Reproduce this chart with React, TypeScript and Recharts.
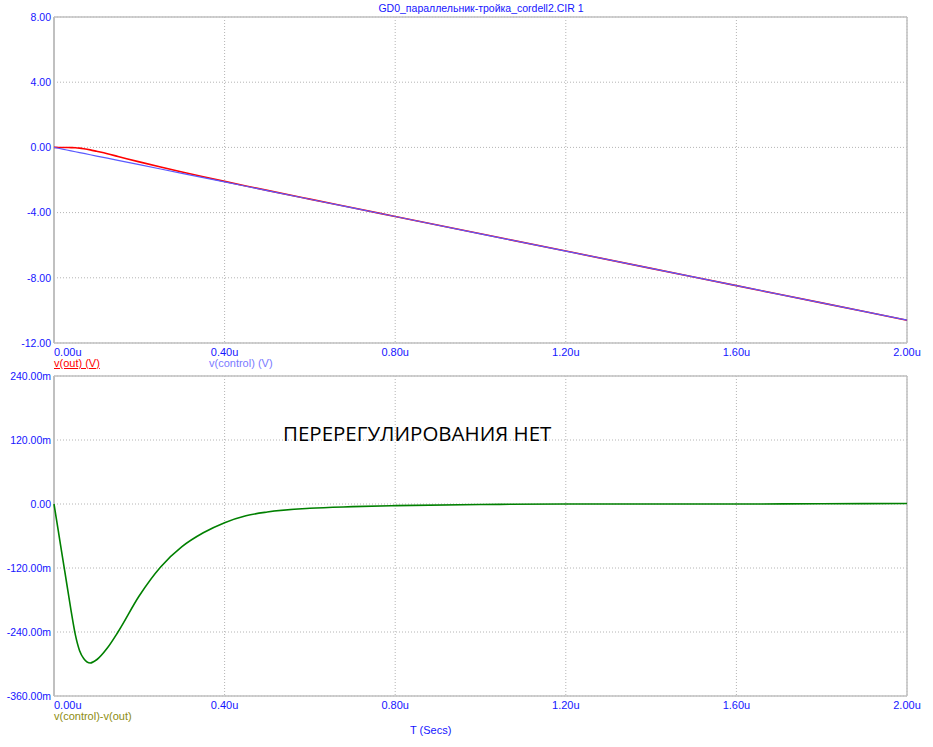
import React from "react";
import {
  LineChart,
  Line,
  XAxis,
  YAxis,
  CartesianGrid,
  ReferenceLine,
} from "recharts";

// time in microseconds
const times = [
  0, 0.01, 0.02, 0.03, 0.04, 0.05, 0.06, 0.07, 0.085, 0.1, 0.125, 0.15, 0.2,
  0.25, 0.3, 0.35, 0.4, 0.45, 0.5, 0.6, 0.7, 0.8, 1.0, 1.2, 1.4, 1.6, 1.8, 2.0,
];

const vControl = [
  0, -0.053, -0.106, -0.159, -0.212, -0.265, -0.318, -0.371, -0.45, -0.53,
  -0.663, -0.795, -1.06, -1.325, -1.59, -1.855, -2.12, -2.385, -2.65, -3.18,
  -3.71, -4.24, -5.3, -6.36, -7.42, -8.48, -9.54, -10.6,
];

const vOut = [
  0, -0.003, -0.006, -0.009, -0.012, -0.02, -0.043, -0.081, -0.152, -0.24,
  -0.39, -0.555, -0.888, -1.205, -1.508, -1.8, -2.085, -2.363, -2.635, -3.172,
  -3.705, -4.237, -5.299, -6.36, -7.42, -8.48, -9.54, -10.6,
];

const vDiff = [
  0, -0.05, -0.1, -0.15, -0.2, -0.245, -0.275, -0.29, -0.298, -0.292, -0.27,
  -0.24, -0.172, -0.118, -0.08, -0.054, -0.035, -0.022, -0.015, -0.008,
  -0.005, -0.003, -0.001, 0, 0, 0, 0.0005, 0.001,
];

const xTicks = [0, 0.4, 0.8, 1.2, 1.6, 2.0];
const topTicks = [-12, -8, -4, 0, 4, 8];
const bottomTicks = [-0.36, -0.24, -0.12, 0, 0.12, 0.24];

const topData = times.map((t, i) => ({ t, out: vOut[i], control: vControl[i] }));
const bottomData = times.map((t, i) => ({ t, diff: vDiff[i] }));

const FONT = "'Liberation Sans', Arial, sans-serif";
const BLUE = "#1515ff";
const BORDER = "#c0c0c0";

const XTick = (props: any) => {
  const { x, y, payload, index } = props;
  return (
    <text
      x={x}
      y={y + 3}
      dy="0.71em"
      textAnchor={index === 0 ? "start" : "middle"}
      fontFamily={FONT}
      fontSize={11}
      fill={BLUE}
    >
      {payload.value.toFixed(2) + "u"}
    </text>
  );
};

const fmtTop = (v: number) => v.toFixed(2);
const fmtBottom = (v: number) => (v === 0 ? "0.00" : (v * 1000).toFixed(2) + "m");

export default function App() {
  const yTickStyle = { fontFamily: FONT, fontSize: 10.5, fill: BLUE };
  return (
    <div
      style={{
        position: "absolute",
        left: 0,
        top: 0,
        width: 933,
        height: 747,
        background: "#fff",
        fontFamily: FONT,
      }}
    >
      <div
        style={{
          position: "absolute",
          top: 2,
          left: 0,
          width: 962,
          textAlign: "center",
          fontSize: 10.5,
          color: BLUE,
        }}
      >
        GD0_параллельник-тройка_cordell2.CIR 1
      </div>

      <div style={{ position: "absolute", top: 0, left: 0 }}>
        <LineChart
          width={933}
          height={375}
          data={topData}
          margin={{ top: 17, right: 26, left: 0, bottom: 0 }}
        >
          <CartesianGrid stroke="#b4b4b4" strokeDasharray="1 2" />
          <XAxis
            dataKey="t"
            type="number"
            domain={[0, 2]}
            ticks={xTicks}
            height={32}
            tickLine={false}
            tickSize={0}
            axisLine={false}
            tick={<XTick />}
            interval={0}
          />
          <YAxis
            type="number"
            domain={[-12, 8]}
            ticks={topTicks}
            width={54}
            tickLine={false}
            tickSize={0}
            tickMargin={3}
            axisLine={false}
            tick={yTickStyle}
            tickFormatter={fmtTop}
            interval={0}
          />
          <ReferenceLine x={0} stroke={BORDER} strokeWidth={2} />
          <ReferenceLine x={2} stroke={BORDER} strokeWidth={1.5} />
          <ReferenceLine y={8} stroke={BORDER} strokeWidth={1.5} />
          <ReferenceLine y={-12} stroke={BORDER} strokeWidth={1.5} />
          <Line
            dataKey="out"
            stroke="#ff0000"
            strokeWidth={1.6}
            dot={false}
            type="monotone"
            isAnimationActive={false}
          />
          <Line
            dataKey="control"
            stroke="#5a5aff"
            strokeWidth={1.2}
            dot={false}
            type="linear"
            isAnimationActive={false}
          />
        </LineChart>
      </div>

      <div
        style={{
          position: "absolute",
          top: 357,
          left: 54,
          fontSize: 11,
          color: "#ff0000",
          textDecoration: "underline",
        }}
      >
        v(out) (V)
      </div>
      <div
        style={{
          position: "absolute",
          top: 357,
          left: 209,
          fontSize: 11,
          color: "#7a7aff",
        }}
      >
        v(control) (V)
      </div>

      <div style={{ position: "absolute", top: 359, left: 0 }}>
        <LineChart
          width={933}
          height={369}
          data={bottomData}
          margin={{ top: 17, right: 26, left: 0, bottom: 0 }}
        >
          <CartesianGrid stroke="#b4b4b4" strokeDasharray="1 2" />
          <XAxis
            dataKey="t"
            type="number"
            domain={[0, 2]}
            ticks={xTicks}
            height={32}
            tickLine={false}
            tickSize={0}
            axisLine={false}
            tick={<XTick />}
            interval={0}
          />
          <YAxis
            type="number"
            domain={[-0.36, 0.24]}
            ticks={bottomTicks}
            width={54}
            tickLine={false}
            tickSize={0}
            tickMargin={3}
            axisLine={false}
            tick={yTickStyle}
            tickFormatter={fmtBottom}
            interval={0}
          />
          <ReferenceLine x={0} stroke={BORDER} strokeWidth={2} />
          <ReferenceLine x={2} stroke={BORDER} strokeWidth={1.5} />
          <ReferenceLine y={0.24} stroke={BORDER} strokeWidth={1.5} />
          <ReferenceLine y={-0.36} stroke={BORDER} strokeWidth={1.5} />
          <Line
            dataKey="diff"
            stroke="#008000"
            strokeWidth={1.6}
            dot={false}
            type="monotone"
            isAnimationActive={false}
          />
        </LineChart>
      </div>

      <div
        style={{
          position: "absolute",
          top: 419,
          left: 283,
          fontSize: 20.5,
          fontFamily: "'Open Sans', 'Noto Sans', sans-serif",
          color: "#000",
          whiteSpace: "nowrap",
        }}
      >
        ПЕРЕРЕГУЛИРОВАНИЯ НЕТ
      </div>

      <div
        style={{
          position: "absolute",
          top: 710,
          left: 54,
          fontSize: 11,
          color: "#8c8c10",
        }}
      >
        v(control)-v(out)
      </div>
      <div
        style={{
          position: "absolute",
          top: 724,
          left: 410,
          fontSize: 11,
          color: BLUE,
        }}
      >
        T (Secs)
      </div>
    </div>
  );
}
